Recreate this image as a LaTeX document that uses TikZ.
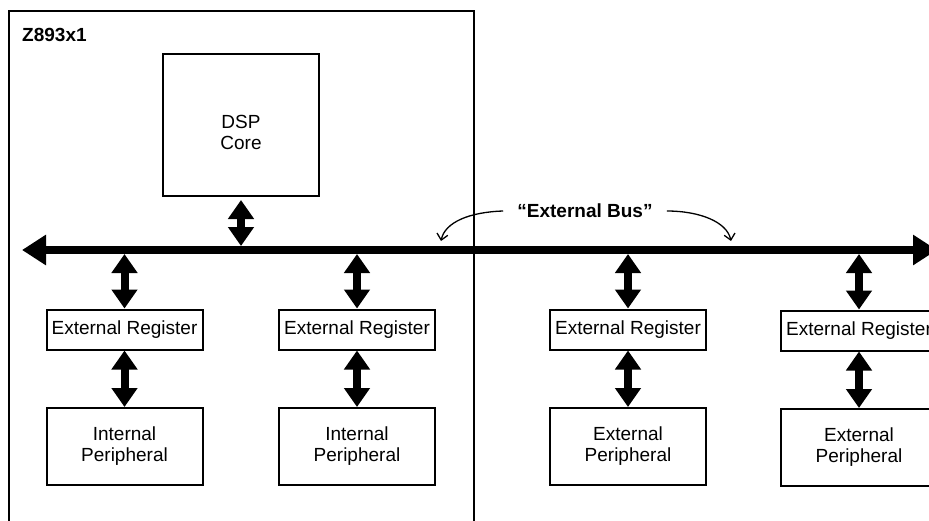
\documentclass[tikz,border=0pt]{standalone}
\usepackage{fontspec}
\setmainfont{Liberation Sans}
\usetikzlibrary{arrows.meta}
\begin{document}
\begin{tikzpicture}[x=1pt,y=-1pt,
  box/.style={draw, line width=2pt, inner sep=2pt, align=center, font=\fontsize{19}{21}\selectfont},
  lbl/.style={inner sep=0pt, align=center, font=\fontsize{19}{21}\selectfont},
  boldlbl/.style={inner sep=0pt, font=\fontsize{19}{21}\selectfont\bfseries},
  dbl/.style={line width=8pt, {Triangle[length=19pt,width=25pt]}-{Triangle[length=19pt,width=25pt]}},
  busline/.style={line width=8pt, {Triangle[length=24pt,width=29pt]}-{Triangle[length=24pt,width=29pt]}},
  curv/.style={line width=1.3pt, -{Straight Barb[length=6pt,width=11pt]}}]
\useasboundingbox (0,0) rectangle (929,520);
\fill[white] (0,0) rectangle (929,520);
\clip (0,0) rectangle (929,520);

% chip outline
\draw[line width=1.8pt] (9,530) -- (9,11) -- (474,11) -- (474,530);
\node[boldlbl, anchor=base west] (chip) at (22,41) {Z893x1};

% DSP core
\node[box, minimum width=156pt, minimum height=142pt] (dsp) at (241,125) {};
\node[lbl] (dsptxt) at (241,132) {DSP\\Core};

% bus
\coordinate (busL) at (22,250);
\coordinate (busR) at (937,250);
\coordinate (busT) at (0,246);
\coordinate (busB) at (0,254);
\draw[busline] (busL) -- (busR);

% bus label
\node[boldlbl] (buslbl) at (585,211) {\char"201C External Bus\char"201D};
\coordinate (tipL) at (441,241);
\coordinate (tipR) at (731,241);
\draw[curv] ([xshift=-14pt]buslbl.west) .. controls (470,212) and (445,222) .. (tipL);
\draw[curv] ([xshift=14pt]buslbl.east) .. controls (700,211) and (727,222) .. (tipR);

% registers
\node[box, minimum width=156pt, minimum height=40pt] (reg1) at (124.5,329.5) {External Register};
\node[box, minimum width=156pt, minimum height=40pt] (reg2) at (357,329.5) {External Register};
\node[box, minimum width=156pt, minimum height=40pt] (reg3) at (628,329.5) {External Register};
\node[box, minimum width=156pt, minimum height=40pt] (reg4) at (859,330.5) {External Register};

% peripherals
\node[box, minimum width=156pt, minimum height=77pt] (per1) at (124.5,446.5) {Internal\\Peripheral};
\node[box, minimum width=156pt, minimum height=77pt] (per2) at (357,446.5) {Internal\\Peripheral};
\node[box, minimum width=156pt, minimum height=77pt] (per3) at (628,446.5) {External\\Peripheral};
\node[box, minimum width=156pt, minimum height=77pt] (per4) at (859,447.5) {External\\Peripheral};

% connectors
\draw[dbl] ([yshift=-3pt]dsp.south) -- (dsp.south |- busT);
\foreach \i in {1,2,3,4}{
  \draw[dbl] (reg\i.north |- busB) -- (reg\i.north);
  \draw[dbl] (reg\i.south) -- (per\i.north);
}
\end{tikzpicture}
\end{document}
